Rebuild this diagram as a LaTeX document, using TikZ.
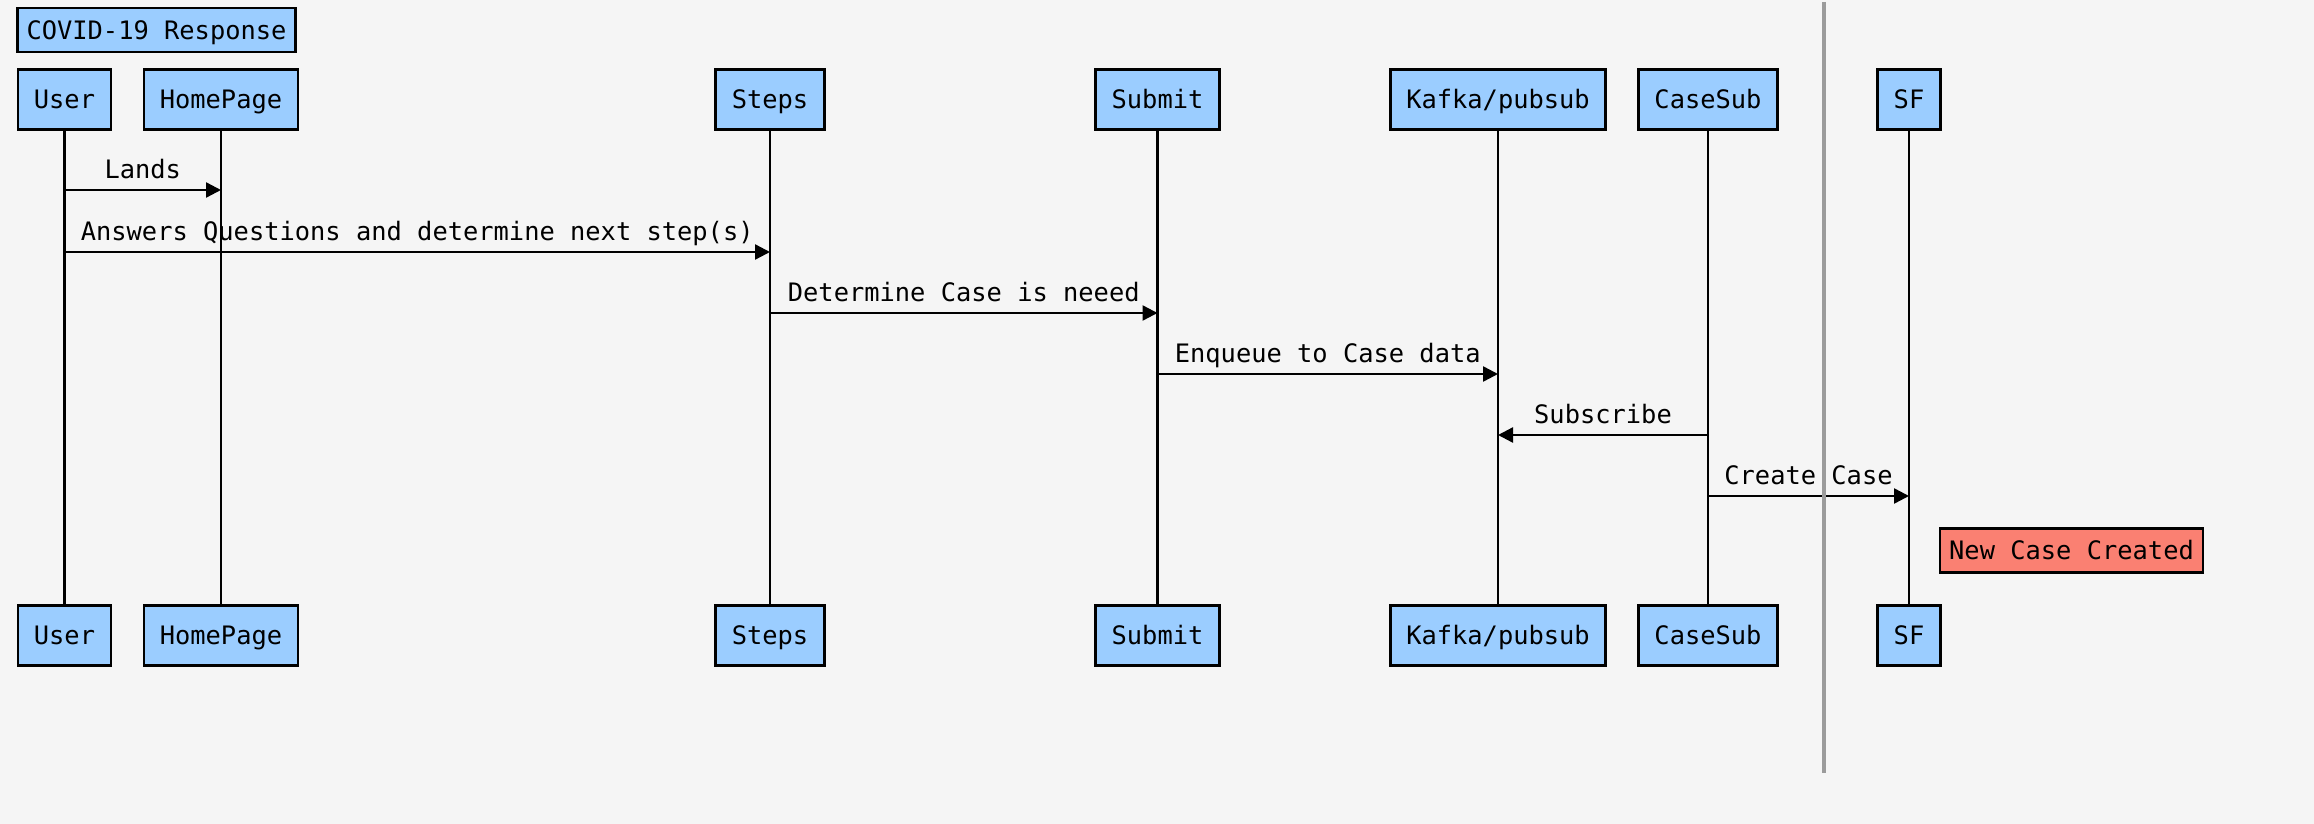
\documentclass[tikz,border=0pt]{standalone}
\usepackage{fontspec}
\setmonofont{DejaVu Sans Mono}
\usetikzlibrary{arrows.meta}
\definecolor{actorblue}{RGB}{155,205,255}
\definecolor{notered}{RGB}{250,128,114}
\definecolor{bggray}{RGB}{245,245,245}
\definecolor{splitgray}{RGB}{155,155,155}

\begin{document}
\begin{tikzpicture}[x=0.5pt, y=-0.5pt,
        every node/.style={font=\ttfamily\fontsize{12.7}{15}\selectfont},
        actor/.style={draw, line width=1.3pt, fill=actorblue, minimum height=30pt, inner xsep=8pt,
            text height=12pt, text depth=2.7pt},
        box/.style={draw, line width=1.3pt, minimum height=22pt, inner xsep=4.5pt, inner ysep=3pt,
            text height=12pt, text depth=2.7pt},
        life/.style={line width=1.1pt},
        msg/.style={line width=1.2pt, -{Triangle[length=7.5pt, width=7.5pt]}},
        lbl/.style={anchor=base, yshift=6pt}]
        \fill[bggray] (0,0) rectangle (2314,824);
        \useasboundingbox (0,0) rectangle (2314,824);

        \node[box, fill=actorblue] (title) at (156.5,30) {COVID-19 Response};

        \node[actor] (user) at (64.5,99.5) {User};
        \node[actor] (home) at (221,99.5) {HomePage};
        \node[actor] (steps) at (770,99.5) {Steps};
        \node[actor] (submit) at (1157.5,99.5) {Submit};
        \node[actor] (kafka) at (1498,99.5) {Kafka/pubsub};
        \node[actor] (casesub) at (1708,99.5) {CaseSub};
        \node[actor] (sf) at (1909,99.5) {SF};

        \node[actor] (userb) at (64.5,635.5) {User};
        \node[actor] (homeb) at (221,635.5) {HomePage};
        \node[actor] (stepsb) at (770,635.5) {Steps};
        \node[actor] (submitb) at (1157.5,635.5) {Submit};
        \node[actor] (kafkab) at (1498,635.5) {Kafka/pubsub};
        \node[actor] (casesubb) at (1708,635.5) {CaseSub};
        \node[actor] (sfb) at (1909,635.5) {SF};

        \draw[life] (user) -- (userb);
        \draw[life] (home) -- (homeb);
        \draw[life] (steps) -- (stepsb);
        \draw[life] (submit) -- (submitb);
        \draw[life] (kafka) -- (kafkab);
        \draw[life] (casesub) -- (casesubb);
        \draw[life] (sf) -- (sfb);

        \draw[msg] (user |- 0,190) -- node[lbl] {Lands} (home |- 0,190);
        \draw[msg] (user |- 0,252) -- node[lbl] {Answers Questions and determine next step(s)} (steps |- 0,252);
        \draw[msg] (steps |- 0,313) -- node[lbl] {Determine Case is neeed} (submit |- 0,313);
        \draw[msg] (submit |- 0,374) -- node[lbl] {Enqueue to Case data} (kafka |- 0,374);
        \draw[msg] (casesub |- 0,435) -- node[lbl] {Subscribe} (kafka |- 0,435);
        \draw[msg] (casesub |- 0,496) -- node[lbl] {Create Case} (sf |- 0,496);

        \node[box, fill=notered] (created) at (2071.5,550.5) {New Case Created};

        \draw[splitgray, line width=2pt] (1823.5,2) -- (1823.5,773);
    \end{tikzpicture}
\end{document}
